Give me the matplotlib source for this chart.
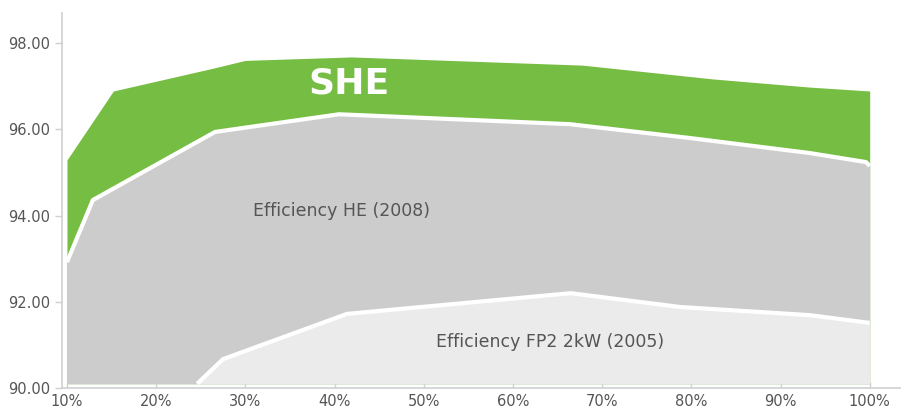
import matplotlib
matplotlib.use("Agg")
from matplotlib import pyplot as plt

# load (%) and efficiency values
she_load = [10, 15.2, 26.4, 30, 41.9, 67.8, 82.4, 93.3, 100]
she_eff = [95.29, 96.89, 97.42, 97.6, 97.68, 97.49, 97.17, 96.98, 96.89]

he_load = [10, 12.9, 26.6, 40.5, 66.4, 79.8, 93.3, 99.6, 100]
he_eff = [92.92, 94.36, 95.94, 96.35, 96.12, 95.80, 95.45, 95.24, 95.15]

fp2_load = [24.6, 27.5, 41.4, 66.5, 78.7, 93.3, 100]
fp2_eff = [90.1, 90.67, 91.72, 92.2, 91.88, 91.69, 91.51]

x_ticks = [10, 20, 30, 40, 50, 60, 70, 80, 90, 100]
y_ticks = [90, 92, 94, 96, 98]
base = 90.1

green = "#76be43"
grey = "#cccccc"
light = "#ebebeb"
txt = "#555555"

fig = plt.figure(figsize=(9.06, 4.09), dpi=100)
ax = fig.add_axes([0.0684, 0.0513, 0.925, 0.917])

# stacked look: green band on top, grey HE, light FP2, white edge lines
ax.fill_between(she_load, base, she_eff, color=green, lw=0, zorder=1)
ax.fill_between(he_load, base, he_eff, color=grey, lw=0, zorder=2)
ax.plot(he_load, he_eff, color="white", lw=3, solid_capstyle="butt", zorder=3)
ax.fill_between(fp2_load, base, fp2_eff, color=light, lw=0, zorder=4)
ax.plot(fp2_load, fp2_eff, color="white", lw=3, solid_capstyle="butt", zorder=5)

ax.text(30.85, 94.1, "Efficiency HE (2008)", fontsize=12.5,
        color=txt, va="center", ha="left", zorder=6)
ax.text(41.6, 97.06, "SHE", fontsize=26, fontweight="bold", color="white",
        ha="center", va="center", zorder=6)
ax.text(51.4, 91.07, "Efficiency FP2 2kW (2005)", fontsize=12.5,
        color=txt, va="center", ha="left", zorder=6)

ax.set_xlim(9.44, 103.4)
ax.set_ylim(90, 98.7)
ax.set_xticks(x_ticks)
ax.set_xticklabels([f"{v}%" for v in x_ticks])
ax.set_yticks(y_ticks)
ax.set_yticklabels([f"{v:.2f}" for v in y_ticks])

for s in ["top", "right"]:
    ax.spines[s].set_visible(False)
for s in ["left", "bottom"]:
    ax.spines[s].set_color("#d0d0d0")
    ax.spines[s].set_linewidth(1.2)
ax.tick_params(colors="#d0d0d0", labelcolor=txt, labelsize=10.5, length=5, width=1)
ax.tick_params(axis="x", direction="in", length=4, pad=4)

fig.savefig("out.png", dpi=100)
